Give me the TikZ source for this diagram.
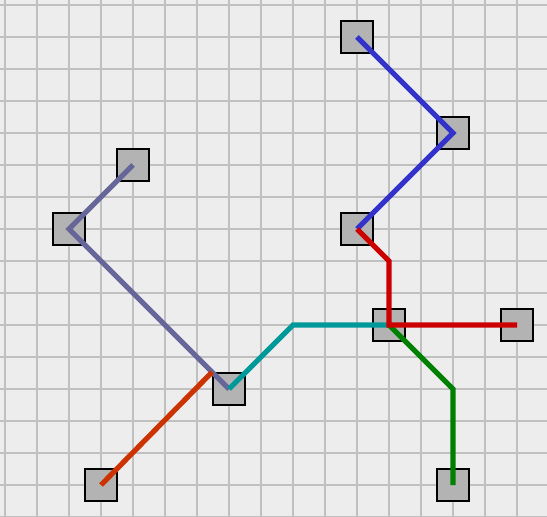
\documentclass[tikz,border=0pt]{standalone}
\usepackage{tikz}
\usetikzlibrary{positioning}
\definecolor{bgColor}{HTML}{EDEDED}
\definecolor{gridColor}{HTML}{C0C0C0}
\definecolor{stopFill}{HTML}{B3B3B3}
\definecolor{blueLine}{HTML}{3333CC}
\definecolor{slateLine}{HTML}{666699}
\definecolor{tealLine}{HTML}{009999}
\definecolor{redLine}{HTML}{CC0000}
\definecolor{greenLine}{HTML}{008000}
\definecolor{rustLine}{HTML}{CC3300}

\begin{document}
\begin{tikzpicture}[
    stopbox/.style={
        rectangle,
        draw=black,
        fill=stopFill,
        line width=1.6pt,
        minimum size=1cm,
        inner sep=0pt,
    },
    route/.style={
        line width=4.6pt,
    },
]

% background and grid
\useasboundingbox (-0.15625,0.15625) rectangle (16.9375,-16);
\fill[bgColor] (-0.15625,0.15625) rectangle (16.9375,-16);
\begin{scope}
    \clip (-0.15625,0.15625) rectangle (16.9375,-16);
    \draw[gridColor, line width=1.4pt] (-1,-17) grid (18,1);
\end{scope}

% stops
\node[stopbox] (north)   at (11,-1)  {};
\node[stopbox] (ne)      at (14,-4)  {};
\node[stopbox] (mid)     at (11,-7)  {};
\node[stopbox] (nw)      at (4,-5)   {};
\node[stopbox] (west)    at (2,-7)   {};
\node[stopbox] (hub)     at (7,-12)  {};
\node[stopbox] (cross)   at (12,-10) {};
\node[stopbox] (east)    at (16,-10) {};
\node[stopbox] (sw)      at (3,-15)  {};
\node[stopbox] (se)      at (14,-15) {};

% routes
\draw[route, slateLine] (nw.center) -- (west.center) -- (hub.center);
\draw[route, tealLine] (hub.center) -- ++(2,2) -- (cross.center);
\draw[route, rustLine] (sw.center) -- (hub.north west);
\draw[route, blueLine] (north.center) -- (ne.center) -- (mid.center);
\draw[route, greenLine] (cross.center) -- ++(2,-2) -- (se.center);
\draw[route, redLine] (mid.center) -- ++(1,-1) -- (cross.center) -- (east.center);

\end{tikzpicture}
\end{document}
